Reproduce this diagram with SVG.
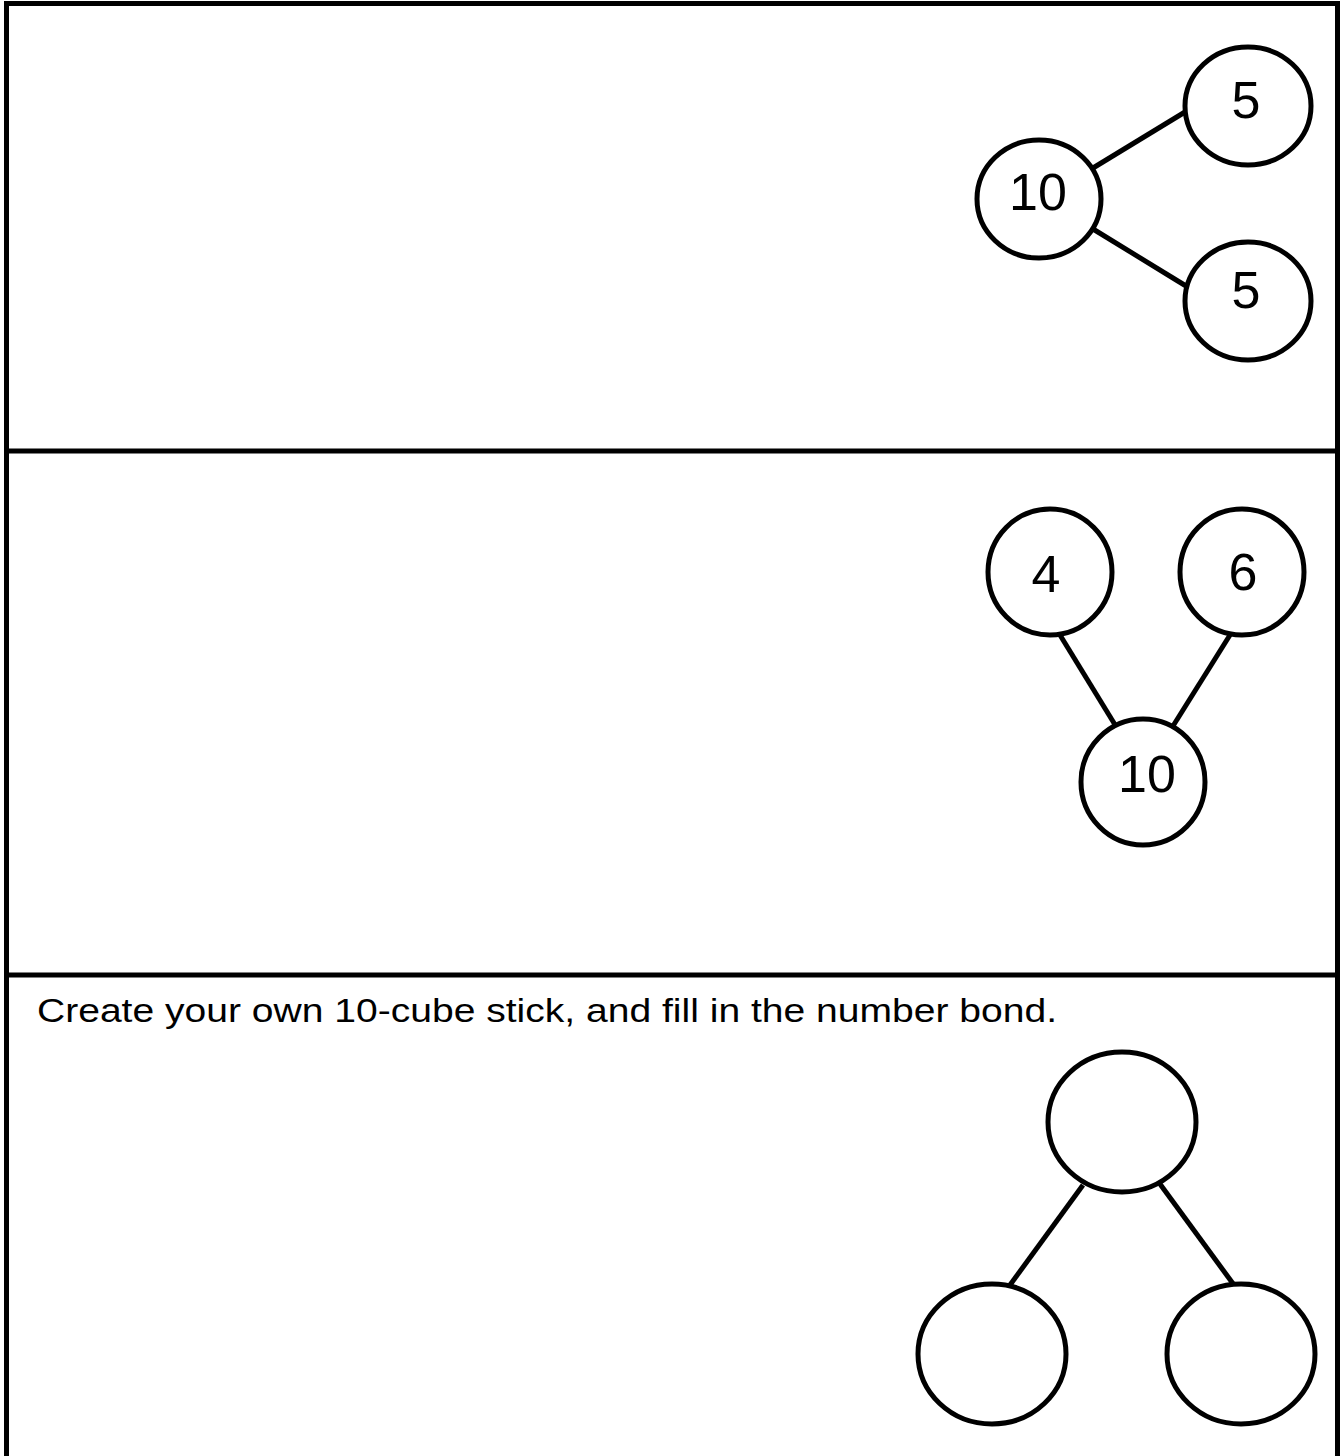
<svg xmlns="http://www.w3.org/2000/svg" width="1340" height="1456" viewBox="0 0 1340 1456">
<style>
.frame{fill:none;stroke:#000;stroke-width:5}
.node{fill:#fff;stroke:#000;stroke-width:5}
.edge{stroke:#000;stroke-width:5;fill:none}
.num{font-family:"Liberation Sans",Arial,sans-serif;font-size:52px;fill:#000;text-anchor:middle}
.lbl{font-family:"Liberation Sans",Arial,sans-serif;font-size:34px;fill:#000}
</style>
<rect width="1340" height="1456" fill="#fff"/>
<g id="frame">
<path class="frame" d="M6.5,1456 V3.5 H1337.5 V1456"/>
<line class="frame" x1="6" y1="451" x2="1338" y2="451"/>
<line class="frame" x1="6" y1="975" x2="1338" y2="975"/>
</g>
<g id="connectors">
<line class="edge" x1="1093" y1="168" x2="1185" y2="112"/>
<line class="edge" x1="1093" y1="229" x2="1186" y2="286"/>
<line class="edge" x1="1060" y1="635" x2="1117" y2="728"/>
<line class="edge" x1="1230" y1="635" x2="1173" y2="726"/>
<line class="edge" x1="1083" y1="1185" x2="1010" y2="1285"/>
<line class="edge" x1="1160" y1="1184" x2="1234" y2="1285"/>
</g>
<g id="n-top-10"><ellipse class="node" cx="1039" cy="199" rx="62" ry="59"/><text class="num" x="1038" y="210">10</text></g>
<g id="n-top-5a"><ellipse class="node" cx="1248" cy="106" rx="63" ry="59"/><text class="num" x="1246" y="118">5</text></g>
<g id="n-top-5b"><ellipse class="node" cx="1248" cy="301" rx="63" ry="59"/><text class="num" x="1246" y="308">5</text></g>
<g id="n-mid-4"><ellipse class="node" cx="1050" cy="572" rx="62" ry="63"/><text class="num" x="1046" y="592">4</text></g>
<g id="n-mid-6"><ellipse class="node" cx="1242" cy="572" rx="62" ry="63"/><text class="num" x="1243" y="590">6</text></g>
<g id="n-mid-10"><ellipse class="node" cx="1143" cy="782" rx="62" ry="63"/><text class="num" x="1147" y="792">10</text></g>
<g id="n-bot-top"><ellipse class="node" cx="1122" cy="1122" rx="74" ry="70"/></g>
<g id="n-bot-left"><ellipse class="node" cx="992" cy="1354" rx="74" ry="70"/></g>
<g id="n-bot-right"><ellipse class="node" cx="1241" cy="1354" rx="74" ry="70"/></g>
<text class="lbl" x="37" y="1022" textLength="1020" lengthAdjust="spacingAndGlyphs">Create your own 10-cube stick, and fill in the number bond.</text>
</svg>
